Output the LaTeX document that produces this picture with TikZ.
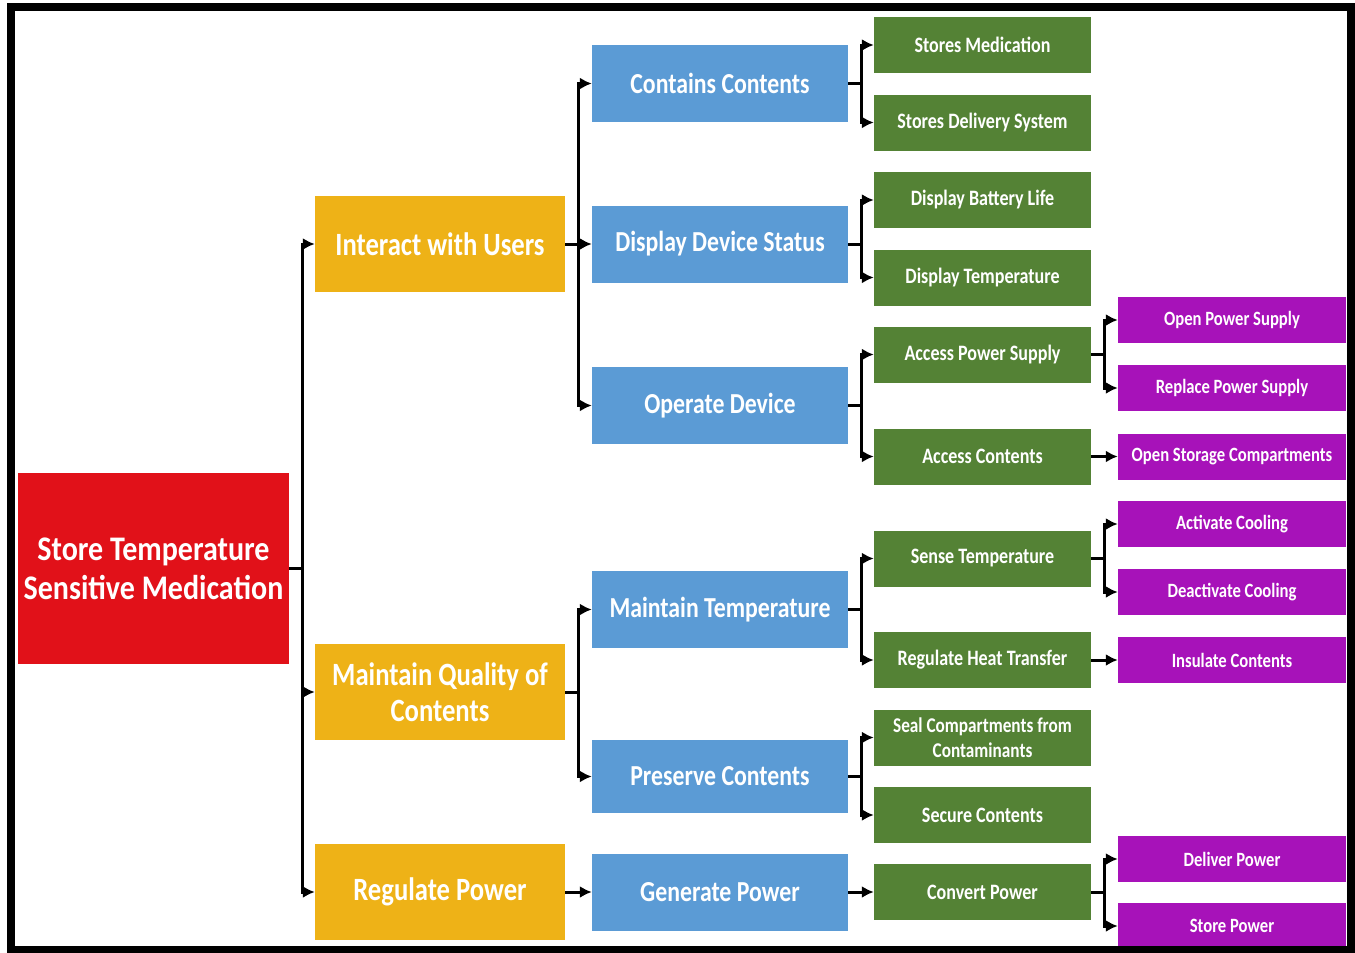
\documentclass[tikz,border=0pt]{standalone}
\usepackage{fontspec}
\setmainfont{Carlito}[FakeStretch=0.82]
\newfontfamily\redfont{Carlito}[FakeStretch=0.87]
\usetikzlibrary{arrows.meta}
\definecolor{cred}{HTML}{E11119}
\definecolor{cyel}{HTML}{EEB217}
\definecolor{cblue}{HTML}{5B9BD5}
\definecolor{cgreen}{HTML}{548235}
\definecolor{cpurp}{HTML}{A712B9}
\tikzset{
  box/.style={inner sep=0pt, text=white, font=\bfseries, align=center, anchor=center},
  rbox/.style={box, fill=cred, minimum width=271pt, minimum height=191pt, font=\redfont\bfseries\fontsize{34.5}{39}\selectfont},
  ybox/.style={box, fill=cyel, minimum width=250pt, minimum height=96pt, font=\bfseries\fontsize{32.5}{36}\selectfont},
  bbox/.style={box, fill=cblue, minimum width=256pt, minimum height=77pt, font=\bfseries\fontsize{29}{33}\selectfont},
  gbox/.style={box, fill=cgreen, minimum width=217pt, minimum height=56pt, font=\bfseries\fontsize{22}{25}\selectfont},
  pbox/.style={box, fill=cpurp, minimum width=228pt, minimum height=46pt, font=\bfseries\fontsize{20.3}{24}\selectfont},
  arr/.style={line width=3pt, -{Latex[length=12pt,width=12pt]}}
}
\begin{document}
\begin{tikzpicture}[x=1pt,y=-1pt]
\useasboundingbox (0,0) rectangle (1355,953);
\fill[white] (0,0) rectangle (1355,953);
% level 0
\node[rbox] (root) at (153.5,568.5) {Store Temperature\\Sensitive Medication};
% level 1
\node[ybox] (iu) at (440,244) {Interact with Users};
\node[ybox] (mq) at (440,692) {Maintain Quality of\\Contents};
\node[ybox] (rp) at (440,892) {Regulate Power};
% level 2
\node[bbox] (cc) at (720,83.5) {Contains Contents};
\node[bbox] (dd) at (720,244) {Display Device Status};
\node[bbox] (od) at (720,405.5) {Operate Device};
\node[bbox] (mt) at (720,609.5) {Maintain Temperature};
\node[bbox, minimum height=73pt] (pc) at (720,776.5) {Preserve Contents};
\node[bbox] (gp) at (720,892) {Generate Power};
% level 3
\node[gbox] (sm) at (982.5,45) {Stores Medication};
\node[gbox] (sd) at (982.5,122.5) {Stores Delivery System};
\node[gbox] (db) at (982.5,200) {Display Battery Life};
\node[gbox] (dt) at (982.5,277.5) {Display Temperature};
\node[gbox] (ap) at (982.5,354.5) {Access Power Supply};
\node[gbox] (ac) at (982.5,456.5) {Access Contents};
\node[gbox] (st) at (982.5,558.5) {Sense Temperature};
\node[gbox] (rh) at (982.5,660) {Regulate Heat Transfer};
\node[gbox, font=\bfseries\fontsize{21}{25}\selectfont] (sc) at (982.5,737.5) {Seal Compartments from\\Contaminants};
\node[gbox] (se) at (982.5,815) {Secure Contents};
\node[gbox] (cp) at (982.5,892) {Convert Power};
% level 4
\node[pbox] (op) at (1232,320) {Open Power Supply};
\node[pbox] (rs) at (1232,388) {Replace Power Supply};
\node[pbox] (os) at (1232,456.5) {Open Storage Compartments};
\node[pbox] (ax) at (1232,524) {Activate Cooling};
\node[pbox] (dx) at (1232,592) {Deactivate Cooling};
\node[pbox] (ic) at (1232,660) {Insulate Contents};
\node[pbox] (dp) at (1232,859) {Deliver Power};
\node[pbox] (sp) at (1232,926) {Store Power};
% connectors
\foreach \t in {iu,mq,rp} \draw[arr] (root.east) -- ++(13,0) |- (\t.west);
\draw[arr] (iu.east) -- (dd.west);
\foreach \t in {cc,od} \draw[arr] (iu.east) -- ++(13,0) |- (\t.west);
\foreach \t in {mt,pc} \draw[arr] (mq.east) -- ++(13,0) |- (\t.west);
\draw[arr] (rp.east) -- (gp.west);
\foreach \s/\t in {cc/sm,cc/sd,dd/db,dd/dt,od/ap,od/ac,mt/st,mt/rh,pc/sc,pc/se}
  \draw[arr] (\s.east) -- ++(13,0) |- (\t.west);
\draw[arr] (gp.east) -- (cp.west);
\foreach \s/\t in {ap/op,ap/rs,st/ax,st/dx,cp/dp,cp/sp}
  \draw[arr] (\s.east) -- ++(13,0) |- (\t.west);
\draw[arr] (ac.east) -- (os.west);
\draw[arr] (rh.east) -- (ic.west);
% frame
\draw[line width=8pt] (10.5,7) rectangle (1351,950);
\end{tikzpicture}
\end{document}
